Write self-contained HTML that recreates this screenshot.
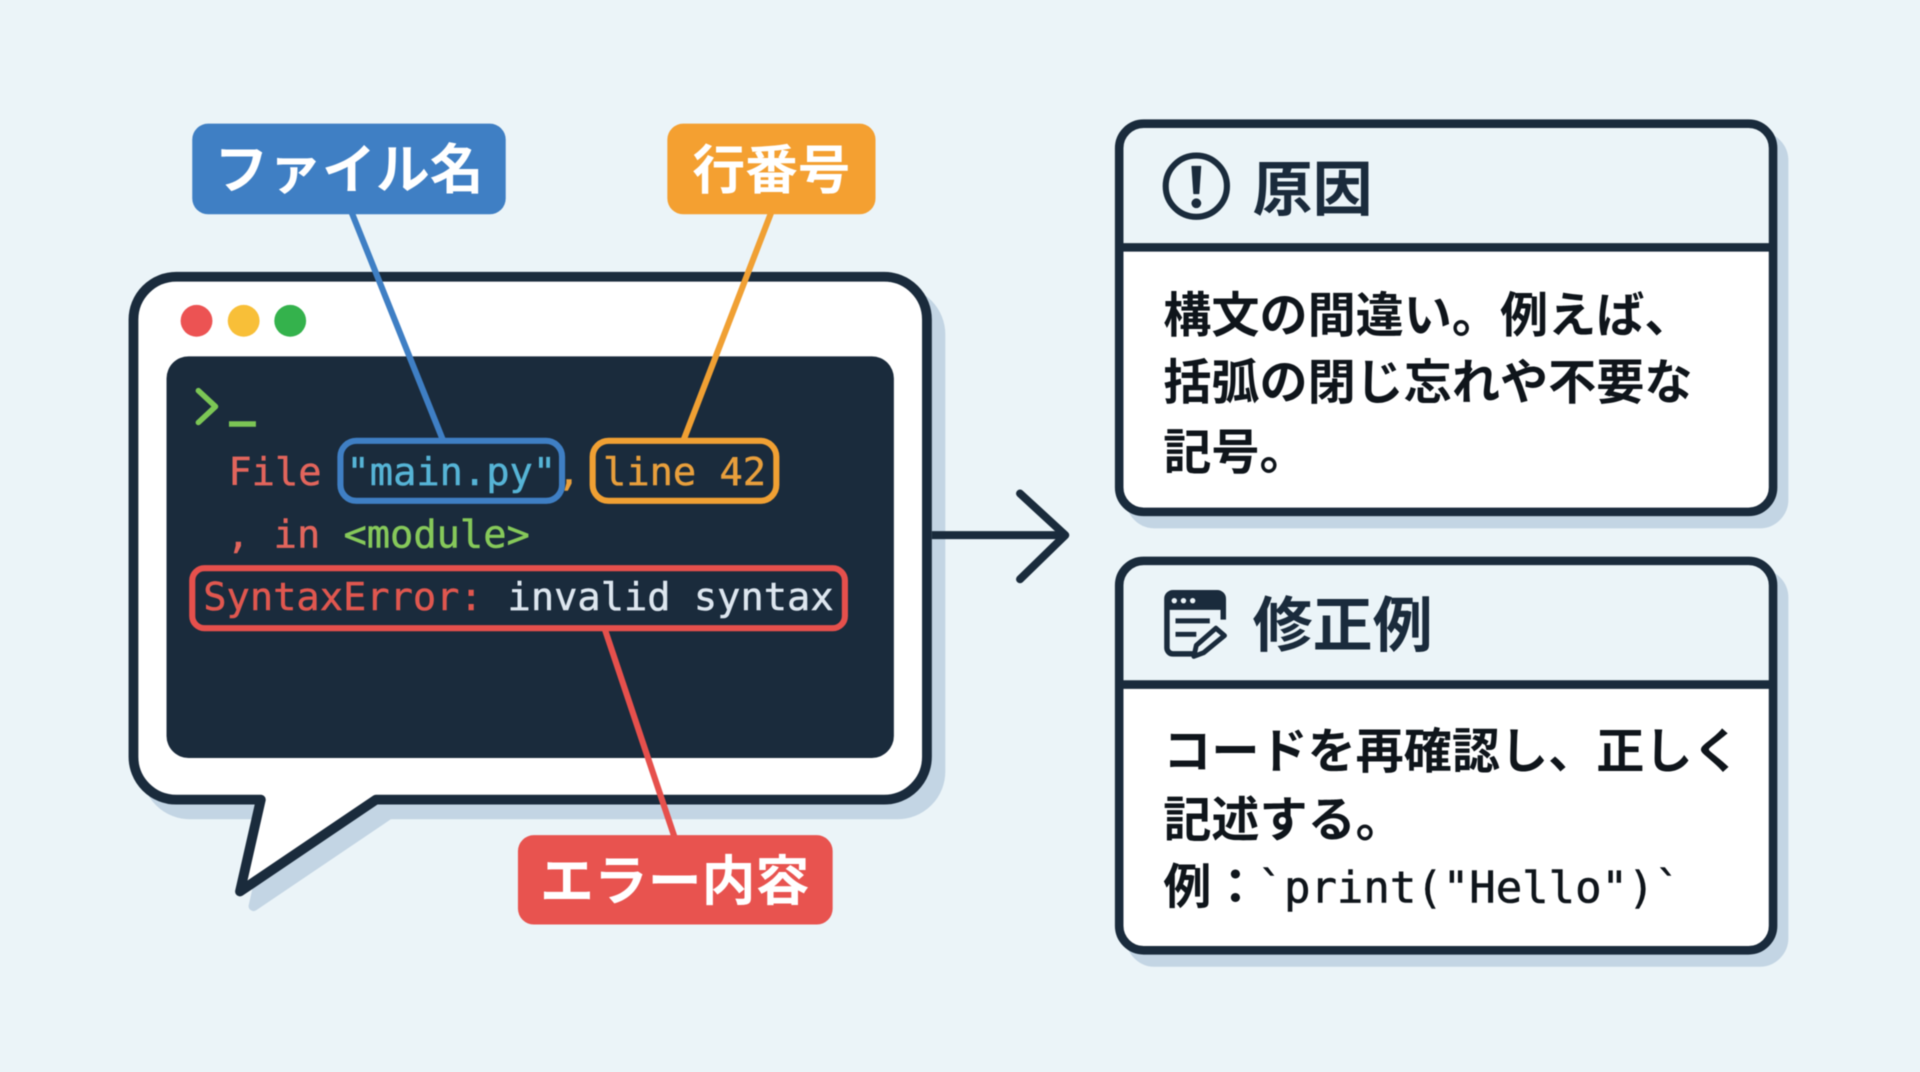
<!DOCTYPE html>
<html lang="ja">
<head>
<meta charset="utf-8">
<style>
html,body{margin:0;padding:0;width:1920px;height:1072px;overflow:hidden;background:#ebf4f8}
svg{display:block;width:1920px;height:1072px;filter:blur(0.4px)}
.jp{font-family:"Liberation Sans","Noto Sans CJK JP",sans-serif;font-weight:700}
.mono{font-family:"DejaVu Sans Mono","Liberation Mono",monospace;font-size:31.6px;stroke-width:.4px}
</style>
</head>
<body>
<svg viewBox="0 0 1568 875.4" preserveAspectRatio="none" xmlns="http://www.w3.org/2000/svg">
<rect width="1568" height="876" fill="#ebf4f8"/>

<!-- Bubble -->
<path d="M144 226H722A35 35 0 0 1 757 261V618A35 35 0 0 1 722 653H307L196 728L213 653H144A35 35 0 0 1 109 618V261A35 35 0 0 1 144 226Z" fill="#c3d5e4" stroke="#c3d5e4" stroke-width="8" stroke-linejoin="round" transform="translate(11,12)"/>
<path d="M144 226H722A35 35 0 0 1 757 261V618A35 35 0 0 1 722 653H307L196 728L213 653H144A35 35 0 0 1 109 618V261A35 35 0 0 1 144 226Z" fill="#fff" stroke="#1a2b3c" stroke-width="8" stroke-linejoin="round"/>
<circle cx="160.500" cy="262" r="13" fill="#ec5353"/>
<circle cx="199" cy="262" r="13" fill="#f8bf38"/>
<circle cx="237" cy="262" r="13" fill="#34b24c"/>
<rect x="136" y="291" width="594" height="328" rx="18" fill="#1a2b3c"/>

<!-- Terminal text -->
<path d="M162 319L176 332L162 345" fill="none" stroke="#7cc655" stroke-width="4.500" stroke-linecap="round" stroke-linejoin="round"/>
<rect x="187" y="344" width="22" height="4.500" fill="#7cc655"/>
<text class="mono" x="186.500" y="396" fill="#e2655c" stroke="#e2655c">File</text>
<text class="mono" x="283" y="396" fill="#56b4d6" stroke="#56b4d6">"main.py"</text>
<text class="mono" x="455" y="396" fill="#e89f3c" stroke="#e89f3c">,</text>
<text class="mono" x="492.500" y="396" fill="#e89f3c" stroke="#e89f3c">line 42</text>
<text class="mono" x="185" y="447" fill="#e2655c" stroke="#e2655c">,</text>
<text class="mono" x="223.500" y="447" fill="#e2655c" stroke="#e2655c">in</text>
<text class="mono" x="280.500" y="447" fill="#86c95a" stroke="#86c95a">&lt;module&gt;</text>
<text class="mono" x="166" y="498" fill="#e0574f" stroke="#e0574f">SyntaxError:</text>
<text class="mono" x="414.500" y="498" fill="#dde6ef" stroke="#dde6ef">invalid syntax</text>

<!-- Highlights -->
<rect x="278" y="360" width="181" height="49" rx="13" fill="none" stroke="#3f7fc4" stroke-width="5"/>
<rect x="484" y="360" width="150" height="49" rx="13" fill="none" stroke="#f0a033" stroke-width="5"/>
<rect x="157" y="464" width="533" height="49" rx="10" fill="none" stroke="#e6504c" stroke-width="5"/>

<!-- Connectors -->
<line x1="287" y1="173" x2="362" y2="360" stroke="#3f7fc4" stroke-width="5"/>
<line x1="630" y1="173" x2="558" y2="360" stroke="#f0a033" stroke-width="5"/>
<line x1="494" y1="514" x2="551" y2="684" stroke="#e6504c" stroke-width="5"/>

<!-- Labels -->
<rect x="157" y="101" width="256" height="74" rx="13" fill="#3f7fc4"/>
<text class="jp" x="285" y="154" font-size="44" fill="#fff" text-anchor="middle">ファイル名</text>
<rect x="545" y="101" width="170" height="74" rx="13" fill="#f4a031"/>
<text class="jp" x="630" y="154" font-size="43" fill="#fff" text-anchor="middle">行番号</text>
<rect x="423" y="682" width="257" height="73" rx="13" fill="#e8534f"/>
<text class="jp" x="551" y="735" font-size="44" fill="#fff" text-anchor="middle">エラー内容</text>

<!-- Arrow -->
<line x1="761" y1="437" x2="868" y2="437" stroke="#1a2b3c" stroke-width="6.500"/>
<path d="M833 403L870 437L833 473" fill="none" stroke="#1a2b3c" stroke-width="6.500" stroke-linecap="round" stroke-linejoin="round"/>

<!-- Card 1 -->
<rect x="925" y="113" width="534" height="317" rx="20" fill="#c3d5e4" stroke="#c3d5e4" stroke-width="7" transform="translate(-2,-2)"/>
<rect x="914" y="101" width="534" height="317" rx="20" fill="#fff"/>
<path d="M914 202V121A20 20 0 0 1 934 101H1428A20 20 0 0 1 1448 121V202Z" fill="#ebf4f8"/>
<rect x="914" y="101" width="534" height="317" rx="20" fill="none" stroke="#1a2b3c" stroke-width="7"/>
<line x1="914" y1="202" x2="1448" y2="202" stroke="#1a2b3c" stroke-width="7"/>
<circle cx="977" cy="152" r="25" fill="none" stroke="#1a2b3c" stroke-width="5"/>
<path d="M973.500 136H980.500L979 158H975Z" fill="#1a2b3c" stroke="#1a2b3c" stroke-width="1" stroke-linejoin="round"/>
<circle cx="977" cy="166" r="4" fill="#1a2b3c"/>
<text class="jp" x="1023" y="172" font-size="49" fill="#1a2b3c">原因</text>
<text class="jp" x="950" y="271" font-size="39.300" fill="#0f151b">構文の間違い。例えば、</text>
<text class="jp" x="950" y="326" font-size="39.300" fill="#0f151b">括弧の閉じ忘れや不要な</text>
<text class="jp" x="950" y="383" font-size="39.300" fill="#0f151b">記号。</text>

<!-- Card 2 -->
<rect x="925" y="470" width="534" height="318" rx="20" fill="#c3d5e4" stroke="#c3d5e4" stroke-width="7" transform="translate(-2,-2)"/>
<rect x="914" y="458" width="534" height="318" rx="20" fill="#fff"/>
<path d="M914 559V478A20 20 0 0 1 934 458H1428A20 20 0 0 1 1448 478V559Z" fill="#ebf4f8"/>
<rect x="914" y="458" width="534" height="318" rx="20" fill="none" stroke="#1a2b3c" stroke-width="7"/>
<line x1="914" y1="559" x2="1448" y2="559" stroke="#1a2b3c" stroke-width="7"/>

<!-- Edit icon -->
<path d="M975 534H958A5 5 0 0 1 953 529V489A5 5 0 0 1 958 484H994A5 5 0 0 1 999 489V506" fill="none" stroke="#1a2b3c" stroke-width="4.500"/>
<path d="M953 497V489A5 5 0 0 1 958 484H994A5 5 0 0 1 999 489V497Z" fill="#1a2b3c" stroke="#1a2b3c" stroke-width="2"/>
<circle cx="959" cy="490.500" r="2.200" fill="#ebf4f8"/>
<circle cx="966.500" cy="490.500" r="2.200" fill="#ebf4f8"/>
<circle cx="974" cy="490.500" r="2.200" fill="#ebf4f8"/>
<line x1="960" y1="507" x2="988" y2="507" stroke="#1a2b3c" stroke-width="4"/>
<line x1="960" y1="518" x2="977" y2="518" stroke="#1a2b3c" stroke-width="4"/>
<path d="M993 513L1000 519L983 533L975 536L977 527Z" fill="#ebf4f8" stroke="#1a2b3c" stroke-width="4" stroke-linejoin="round"/>

<text class="jp" x="1023" y="528" font-size="49" fill="#1a2b3c">修正例</text>
<text class="jp" x="950" y="627" font-size="39.300" fill="#0f151b">コードを再確認し、正しく</text>
<text class="jp" x="950" y="683" font-size="39.300" fill="#0f151b">記述する。</text>
<text class="jp" x="950" y="738" font-size="39.300" fill="#0f151b">例：</text>
<text x="1027" y="737" font-family="'DejaVu Sans Mono','Liberation Mono',monospace" font-size="35.900" font-weight="400" fill="#0f151b" stroke="#0f151b" stroke-width=".5">`print("Hello")`</text>
</svg>
</body>
</html>
